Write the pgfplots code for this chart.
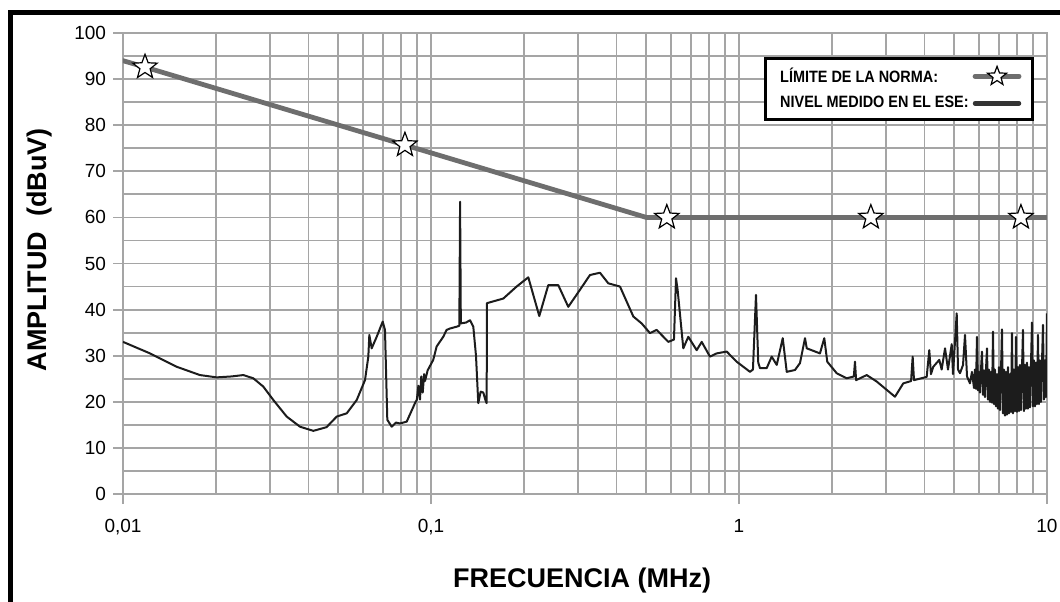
\documentclass[border=0pt]{standalone}
\usepackage{fontspec}
\setmainfont{Liberation Sans}
\newfontfamily\legfont{Liberation Sans}[FakeStretch=0.88]
\usepackage{pgfplots}
\pgfplotsset{compat=1.18}

\definecolor{gridgray}{RGB}{165,165,165}
\definecolor{limitgray}{RGB}{110,110,110}
\definecolor{measured}{RGB}{28,28,28}

% open five-pointed star
\pgfdeclareplotmark{fivestar}{%
  \pgfpathmoveto{\pgfqpointpolar{90}{\pgfplotmarksize}}%
  \pgfpathlineto{\pgfqpointpolar{126}{0.42\pgfplotmarksize}}%
  \pgfpathlineto{\pgfqpointpolar{162}{\pgfplotmarksize}}%
  \pgfpathlineto{\pgfqpointpolar{198}{0.42\pgfplotmarksize}}%
  \pgfpathlineto{\pgfqpointpolar{234}{\pgfplotmarksize}}%
  \pgfpathlineto{\pgfqpointpolar{270}{0.42\pgfplotmarksize}}%
  \pgfpathlineto{\pgfqpointpolar{306}{\pgfplotmarksize}}%
  \pgfpathlineto{\pgfqpointpolar{342}{0.42\pgfplotmarksize}}%
  \pgfpathlineto{\pgfqpointpolar{18}{\pgfplotmarksize}}%
  \pgfpathlineto{\pgfqpointpolar{54}{0.42\pgfplotmarksize}}%
  \pgfpathclose
  \pgfusepathqfillstroke
}

\pgfplotsset{
  limitlegend/.style={legend image code/.code={\draw[##1, mark indices={2}, mark size=5pt]
        plot coordinates {(0pt,0pt) (11pt,0pt) (22pt,0pt)};}},
  measlegend/.style={legend image code/.code={\draw[line width=2.2pt, color=measured!90!white, line cap=round]
        (0pt,0pt) -- (22pt,0pt);}},
}

\begin{document}
\begin{tikzpicture}
\begin{axis}[
    at={(61.5pt,53.5pt)}, anchor=south west,
    scale only axis, width=462pt, height=230.5pt,
    xmode=log, xmin=0.01, xmax=10, ymin=0, ymax=100,
    xtick={0.01,0.1,1,10}, xticklabels={{0,01},{0,1},1,10},
    ytick={0,10,...,100}, minor y tick num=1,
    xtick pos=bottom, ytick pos=left,
    grid=both,
    major grid style={gridgray, line width=0.9pt},
    minor grid style={gridgray, line width=0.9pt},
    axis line style={gridgray, line width=1pt},
    tick style={gridgray, line width=0.9pt},
    tick align=outside, major tick length=5pt, minor tick length=0pt,
    ticklabel style={font=\fontsize{9.5}{10}\selectfont, text=black},
    /pgf/number format/assume math mode=true,
    xticklabel style={yshift=-4pt},
    xlabel={FRECUENCIA (MHz)},
    ylabel={AMPLITUD\ \ (dBuV)},
    xlabel style={at={(axis description cs:0.497,0)}, anchor=base, yshift=-46.5pt,
        font=\fontsize{13.5}{15}\selectfont\bfseries},
    ylabel style={at={(axis description cs:-0.0898,0.53)}, rotate=0, anchor=center,
        font=\fontsize{13.5}{15}\selectfont\bfseries},
    legend plot pos=right,
    legend cell align=left,
    legend style={at={(rel axis cs:0.986,0.948)}, anchor=north east,
        draw=black, line width=1.6pt, fill=white,
        font=\legfont\fontsize{8.2}{9}\selectfont\bfseries,
        inner xsep=5.5pt, inner ysep=2.5pt, row sep=1.5pt},
]

% limit of the standard, stars on the line
\addplot[color=limitgray, line width=2.4pt, line cap=round,
    mark=fivestar, mark size=6.4pt, mark indices={2,3,5,6,7},
    mark options={solid, fill=white, draw=black, line width=0.6pt},
    limitlegend]
coordinates {
(0.01,94.0) (0.01179,92.6) (0.0823,75.7) (0.5,60.0)
(0.583,60.0) (2.68,60.0) (8.23,60.0) (10,60.0)
};
\addlegendentry{LÍMITE DE LA NORMA:}

% measured level
\addplot[color=measured, line width=1pt, line join=round, measlegend]
coordinates {
(0.0100,33.0) (0.01224,30.5) (0.01494,27.6) (0.01778,25.8) (0.02015,25.3)
(0.02250,25.5) (0.02459,25.8) (0.02649,25.1) (0.02855,23.3) (0.03076,20.4)
(0.03400,16.8) (0.03756,14.6) (0.04150,13.7) (0.04581,14.5) (0.04943,16.8)
(0.05325,17.5) (0.05740,20.4) (0.06106,24.7) (0.06260,29.8) (0.06307,34.5)
(0.06419,31.6) (0.06664,34.1) (0.06970,37.4) (0.07090,35.6) (0.07215,16.1)
(0.07455,14.6) (0.07700,15.5) (0.07932,15.3) (0.08340,15.7) (0.08872,19.7)
(0.09000,20.5) (0.09100,23.5) (0.09211,20.5) (0.09300,25.5) (0.09400,22.0)
(0.09500,26.0) (0.09561,24.5) (0.09750,26.8) (0.1017,29.1) (0.1043,32.0)
(0.1096,34.1) (0.1124,35.6) (0.1153,35.9) (0.1212,36.3) (0.1236,36.5)
(0.1243,63.4) (0.1250,37.0) (0.1300,37.2) (0.1339,37.7) (0.1372,36.3)
(0.1400,30.0) (0.1424,19.7) (0.1450,22.2) (0.1479,22.0) (0.1500,20.5)
(0.1516,19.7) (0.1520,41.4) (0.1717,42.4) (0.1897,45.0) (0.2070,47.0)
(0.2247,38.6) (0.2403,45.3) (0.2590,45.3) (0.2791,40.6) (0.3046,44.3)
(0.3282,47.5) (0.3537,48.0) (0.3765,45.7) (0.4108,45.0) (0.4539,38.5)
(0.4831,37.0) (0.5140,34.9) (0.5405,35.6) (0.5896,33.0) (0.6150,33.5)
(0.6245,46.8) (0.6320,44.3) (0.6595,31.6) (0.6846,34.1) (0.7289,31.2)
(0.7568,33.0) (0.8050,29.8) (0.8465,30.5) (0.9120,30.9) (0.9829,28.7)
(1.0857,26.5) (1.1100,27.0) (1.1355,43.2) (1.1550,28.5) (1.1700,27.3)
(1.2301,27.3) (1.2770,29.8) (1.3260,28.0) (1.3870,33.8) (1.4290,26.5)
(1.5200,26.9) (1.5780,28.4) (1.6380,33.8) (1.6600,31.6) (1.8320,30.5)
(1.8920,33.8) (1.9350,28.7) (2.0760,26.2) (2.2370,25.1) (2.3600,25.5)
(2.3800,28.7) (2.4000,24.7) (2.5980,25.8) (2.8000,24.4) (3.0160,22.6)
(3.2100,21.1) (3.4150,24.0) (3.6200,24.5) (3.6640,29.8) (3.7000,24.7)
(4.0680,25.4) (4.1480,31.2) (4.2000,26.0) (4.2740,27.6) (4.4700,29.1)
(4.5500,27.0) (4.666,31.6) (4.771,27.0) (4.905,32.5) (4.953,26.0)
(5.092,39.2) (5.142,27.0) (5.219,26.2) (5.338,28.0) (5.418,34.5)
(5.500,25.5) (5.623,24.0) (5.708,26.5) (5.794,23.0)
(5.837,27.0) (5.881,22.8) (5.925,34.1) (5.970,22.5) (6.015,26.5)
(6.060,22.0) (6.106,27.0) (6.151,30.9) (6.198,21.5) (6.244,26.8)
(6.291,21.0) (6.338,27.0) (6.386,31.6) (6.434,20.5) (6.482,27.0)
(6.531,20.0) (6.580,26.5) (6.629,19.8) (6.679,35.2) (6.729,19.5)
(6.779,27.0) (6.830,19.0) (6.881,26.0) (6.933,18.5) (6.985,27.5)
(7.038,18.2) (7.090,26.5) (7.144,35.7) (7.197,17.5) (7.252,27.0)
(7.306,17.0) (7.361,26.5) (7.416,17.2) (7.472,27.5) (7.528,17.5)
(7.584,26.0) (7.641,17.8) (7.698,34.9) (7.756,17.5) (7.814,27.0)
(7.873,18.0) (7.932,34.1) (7.991,17.8) (8.051,27.5) (8.111,18.0)
(8.172,28.0) (8.233,18.2) (8.295,27.0) (8.357,35.6) (8.419,18.0)
(8.483,28.0) (8.546,18.5) (8.610,28.5) (8.675,18.5) (8.740,27.5)
(8.806,18.8) (8.871,28.0) (8.938,37.2) (9.006,19.0) (9.073,29.0)
(9.141,19.0) (9.210,28.5) (9.279,19.5) (9.348,34.5) (9.418,19.5)
(9.490,29.0) (9.561,20.0) (9.633,28.5) (9.706,36.7) (9.778,20.5)
(9.852,29.0) (9.926,21.0) (10.0,39.2)
};
\addlegendentry{NIVEL MEDIDO EN EL ESE:}
\end{axis}

% outer frame (only top and left edges are inside the picture)
\draw[line width=2.5pt] (5pt,-10pt) -- (5pt,294.25pt) -- (545pt,294.25pt);
\pgfresetboundingbox
\path (0pt,0pt) rectangle (530pt,300.5pt);
\end{tikzpicture}
\end{document}
